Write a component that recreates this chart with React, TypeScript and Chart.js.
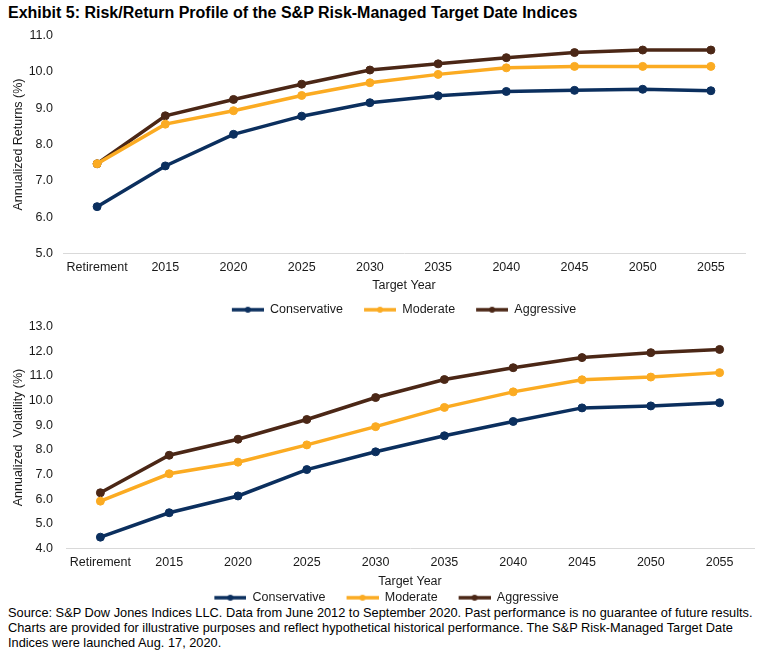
import React, { useEffect, useRef } from "react";
import { Chart, registerables } from "chart.js";

Chart.register(...registerables);

const categories = ["Retirement", "2015", "2020", "2025", "2030", "2035", "2040", "2045", "2050", "2055"];
const seriesNames = ["Conservative", "Moderate", "Aggressive"];
const seriesColors = ["#0b2f5e", "#fbab22", "#4b2716"];

const returnsConservative = [6.29, 7.41, 8.28, 8.78, 9.15, 9.34, 9.46, 9.49, 9.52, 9.48];
const returnsModerate = [7.47, 8.56, 8.93, 9.35, 9.7, 9.93, 10.11, 10.15, 10.15, 10.15];
const returnsAggressive = [7.47, 8.79, 9.24, 9.66, 10.05, 10.22, 10.39, 10.53, 10.6, 10.6];

const volConservative = [4.46, 5.45, 6.13, 7.2, 7.92, 8.57, 9.15, 9.7, 9.78, 9.91];
const volModerate = [5.92, 7.03, 7.5, 8.2, 8.94, 9.72, 10.35, 10.84, 10.95, 11.13];
const volAggressive = [6.26, 7.78, 8.43, 9.23, 10.12, 10.85, 11.33, 11.74, 11.94, 12.07];

const FONT = "'Liberation Sans', Arial, sans-serif";
const TEXT_COLOR = "#1a1a1a";

function legendMarker(color: string): HTMLCanvasElement {
  const W = 43;
  const H = 10;
  const c = document.createElement("canvas");
  c.width = W;
  c.height = H;
  const ctx = c.getContext("2d")!;
  ctx.strokeStyle = color;
  ctx.lineWidth = 3.5;
  ctx.beginPath();
  ctx.moveTo(W - 32, H / 2);
  ctx.lineTo(W, H / 2);
  ctx.stroke();
  ctx.fillStyle = color;
  ctx.beginPath();
  ctx.arc(W - 16, H / 2, 3, 0, Math.PI * 2);
  ctx.fill();
  return c;
}

type PanelProps = {
  top: number;
  height: number;
  padRight: number;
  legendShift: number;
  yWidth: number;
  yTickPad: number;
  xHeight: number;
  xTitlePad: number;
  yMin: number;
  yMax: number;
  yTitle: string;
  series: number[][];
};

function Panel(props: PanelProps) {
  const ref = useRef<HTMLCanvasElement>(null);
  useEffect(() => {
    if (!ref.current) return;
    const markers = seriesColors.map(legendMarker);
    const font = { family: FONT, size: 12.5 };
    const shiftLegend = {
      id: "shiftLegend",
      afterLayout(chart: any) {
        if (chart.legend) {
          chart.legend.left += props.legendShift;
          chart.legend.right += props.legendShift;
        }
      },
    };
    const chart = new Chart(ref.current, {
      type: "line",
      data: {
        labels: categories,
        datasets: props.series.map((vals, i) => ({
          label: seriesNames[i],
          data: vals,
          borderColor: seriesColors[i],
          backgroundColor: seriesColors[i],
          pointBackgroundColor: seriesColors[i],
          pointBorderColor: seriesColors[i],
          borderWidth: 3.5,
          pointRadius: 4,
          pointBorderWidth: 1,
          tension: 0,
          fill: false,
        })),
      },
      plugins: [shiftLegend],
      options: {
        animation: false,
        responsive: true,
        maintainAspectRatio: false,
        layout: { padding: { top: 0, right: props.padRight, left: 0, bottom: 0 } },
        plugins: {
          tooltip: { enabled: false },
          legend: {
            display: true,
            position: "bottom",
            labels: {
              usePointStyle: true,
              pointStyleWidth: 43,
              padding: 10,
              color: TEXT_COLOR,
              font,
              generateLabels: (chart: any) =>
                chart.data.datasets.map((ds: any, i: number) => ({
                  text: ds.label,
                  fillStyle: ds.borderColor,
                  strokeStyle: ds.borderColor,
                  lineWidth: 0,
                  pointStyle: markers[i],
                  hidden: false,
                  datasetIndex: i,
                  fontColor: TEXT_COLOR,
                })),
            },
          },
        },
        scales: {
          x: {
            type: "category",
            offset: true,
            grid: { display: false, drawTicks: false },
            border: { display: true, color: "#d9d9d9", width: 1 },
            ticks: { color: TEXT_COLOR, font, padding: 7, autoSkip: false, maxRotation: 0 },
            title: {
              display: true,
              text: "Target Year",
              color: TEXT_COLOR,
              font,
              padding: { top: props.xTitlePad, bottom: props.xTitlePad },
            },
            afterFit: (s: any) => {
              s.height = props.xHeight;
            },
          },
          y: {
            min: props.yMin,
            max: props.yMax,
            grid: { display: false, drawTicks: false },
            border: { display: false },
            ticks: {
              stepSize: 1,
              color: TEXT_COLOR,
              font,
              padding: props.yTickPad,
              callback: (v: any) => Number(v).toFixed(1),
            },
            title: { display: true, text: props.yTitle, color: TEXT_COLOR, font, padding: { top: 11, bottom: 0 } },
            afterFit: (s: any) => {
              s.width = props.yWidth;
            },
          },
        },
      },
    } as any);
    return () => chart.destroy();
  }, []);
  return (
    <div style={{ position: "absolute", left: 0, top: props.top, width: 759, height: props.height }}>
      <canvas ref={ref} />
    </div>
  );
}

export default function App() {
  return (
    <div
      style={{
        position: "absolute",
        left: 0,
        top: 0,
        width: 759,
        height: 655,
        overflow: "hidden",
        background: "#fff",
        fontFamily: FONT,
      }}
    >
      <div
        style={{
          position: "absolute",
          left: 8,
          top: 3,
          fontSize: 16,
          fontWeight: "bold",
          color: "#000",
          whiteSpace: "nowrap",
          lineHeight: "20px",
        }}
      >
        Exhibit 5: Risk/Return Profile of the S&amp;P Risk-Managed Target Date Indices
      </div>
      <Panel
        top={18}
        height={308}
        padRight={14}
        legendShift={26}
        yWidth={63}
        yTickPad={10}
        xHeight={40}
        xTitlePad={0}
        yMin={5}
        yMax={11}
        yTitle="Annualized Returns (%)"
        series={[returnsConservative, returnsModerate, returnsAggressive]}
      />
      <Panel
        top={306}
        height={308}
        padRight={5}
        legendShift={4}
        yWidth={66}
        yTickPad={13}
        xHeight={33}
        xTitlePad={-8}
        yMin={4}
        yMax={13}
        yTitle="Annualized  Volatility (%)"
        series={[volConservative, volModerate, volAggressive]}
      />
      <div
        style={{
          position: "absolute",
          left: 8,
          top: 605,
          width: 751,
          height: 50,
          background: "#fff",
          overflow: "hidden",
        }}
      >
        <div
          style={{
            width: 840,
            fontSize: 13.5,
            lineHeight: "15px",
            color: "#000",
            whiteSpace: "nowrap",
            transform: "scaleX(0.947)",
            transformOrigin: "0 0",
          }}
        >
          Source: S&amp;P Dow Jones Indices LLC. Data from June 2012 to September 2020. Past performance is no guarantee of future results.
          <br />
          Charts are provided for illustrative purposes and reflect hypothetical historical performance. The S&amp;P Risk-Managed Target Date
          <br />
          Indices were launched Aug. 17, 2020.
        </div>
      </div>
    </div>
  );
}
